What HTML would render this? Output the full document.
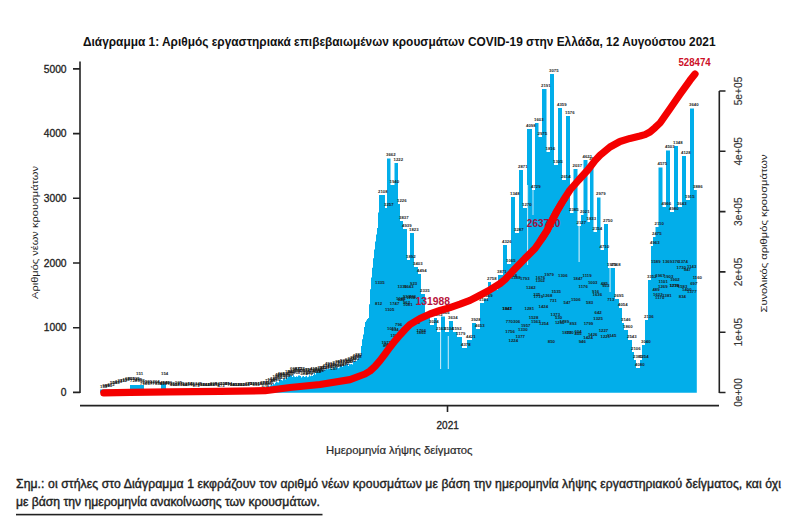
<!DOCTYPE html>
<html><head><meta charset="utf-8"><style>
html,body{margin:0;padding:0;background:#fff;width:800px;height:517px;overflow:hidden}
svg{display:block}
</style></head><body>
<svg width="800" height="517" viewBox="0 0 800 517" font-family='"Liberation Sans", sans-serif'>
<rect width="800" height="517" fill="#fff"/>
<text x="83" y="45.6" font-size="13" font-weight="bold" fill="#111" textLength="632.5" lengthAdjust="spacingAndGlyphs">Διάγραμμα 1: Αριθμός εργαστηριακά επιβεβαιωμένων κρουσμάτων COVID-19 στην Ελλάδα, 12 Αυγούστου 2021</text>
<path d="M100.00 389.5H101.00V392.8H100.00ZM101.00 389.5H102.00V392.8H101.00ZM102.00 389.5H103.00V392.8H102.00ZM103.00 389.5H104.00V392.8H103.00ZM104.00 389.5H105.00V392.8H104.00ZM105.00 389.5H106.00V392.8H105.00ZM106.00 389.5H107.00V392.8H106.00ZM107.00 389.5H108.00V392.8H107.00ZM108.00 389.5H109.00V392.8H108.00ZM109.00 389.5H110.00V392.8H109.00ZM110.00 389.5H111.00V392.8H110.00ZM111.00 389.5H112.00V392.8H111.00ZM112.00 389.5H113.00V392.8H112.00ZM113.00 389.5H114.00V392.8H113.00ZM114.00 389.5H115.00V392.8H114.00ZM115.00 389.5H116.00V392.8H115.00ZM116.00 389.5H117.00V392.8H116.00ZM117.00 389.5H118.00V392.8H117.00ZM118.00 389.5H119.00V392.8H118.00ZM119.00 389.5H120.00V392.8H119.00ZM120.00 389.5H121.00V392.8H120.00ZM121.00 389.5H122.00V392.8H121.00ZM122.00 389.5H123.00V392.8H122.00ZM123.00 389.5H124.00V392.8H123.00ZM124.00 389.5H125.00V392.8H124.00ZM125.00 389.5H126.00V392.8H125.00ZM126.00 389.5H127.00V392.8H126.00ZM127.00 389.5H128.00V392.8H127.00ZM128.00 389.5H129.00V392.8H128.00ZM129.00 389.5H130.00V392.8H129.00ZM130.00 385.0H131.00V392.8H130.00ZM131.00 385.0H132.00V392.8H131.00ZM132.00 385.0H133.00V392.8H132.00ZM133.00 385.0H134.00V392.8H133.00ZM134.00 385.0H135.00V392.8H134.00ZM135.00 385.0H136.00V392.8H135.00ZM136.00 385.0H137.00V392.8H136.00ZM137.00 385.0H138.00V392.8H137.00ZM138.00 385.0H139.00V392.8H138.00ZM139.00 385.0H140.00V392.8H139.00ZM140.00 385.0H141.00V392.8H140.00ZM141.00 385.0H142.00V392.8H141.00ZM142.00 385.0H143.00V392.8H142.00ZM143.00 385.0H144.00V392.8H143.00ZM144.00 389.5H145.00V392.8H144.00ZM145.00 389.5H146.00V392.8H145.00ZM146.00 389.5H147.00V392.8H146.00ZM147.00 389.5H148.00V392.8H147.00ZM148.00 389.5H149.00V392.8H148.00ZM149.00 389.5H150.00V392.8H149.00ZM150.00 389.5H151.00V392.8H150.00ZM151.00 389.5H152.00V392.8H151.00ZM152.00 389.5H153.00V392.8H152.00ZM153.00 389.5H154.00V392.8H153.00ZM154.00 389.5H155.00V392.8H154.00ZM155.00 389.5H156.00V392.8H155.00ZM156.00 389.5H157.00V392.8H156.00ZM157.00 389.5H158.00V392.8H157.00ZM158.00 389.5H159.00V392.8H158.00ZM159.00 389.5H160.00V392.8H159.00ZM160.00 389.5H161.00V392.8H160.00ZM161.00 384.0H162.00V392.8H161.00ZM162.00 384.0H163.00V392.8H162.00ZM163.00 384.0H164.00V392.8H163.00ZM164.00 384.0H165.00V392.8H164.00ZM165.00 384.0H166.00V392.8H165.00ZM166.00 389.5H167.00V392.8H166.00ZM167.00 389.5H168.00V392.8H167.00ZM168.00 389.5H169.00V392.8H168.00ZM169.00 389.5H170.00V392.8H169.00ZM170.00 389.5H171.00V392.8H170.00ZM171.00 389.5H172.00V392.8H171.00ZM172.00 389.5H173.00V392.8H172.00ZM173.00 389.5H174.00V392.8H173.00ZM174.00 389.5H175.00V392.8H174.00ZM175.00 389.5H176.00V392.8H175.00ZM176.00 389.5H177.00V392.8H176.00ZM177.00 389.5H178.00V392.8H177.00ZM178.00 389.5H179.00V392.8H178.00ZM179.00 389.5H180.00V392.8H179.00ZM180.00 389.5H181.00V392.8H180.00ZM181.00 389.5H182.00V392.8H181.00ZM182.00 389.5H183.00V392.8H182.00ZM183.00 389.5H184.00V392.8H183.00ZM184.00 389.5H185.00V392.8H184.00ZM185.00 389.5H186.00V392.8H185.00ZM186.00 389.5H187.00V392.8H186.00ZM187.00 389.5H188.00V392.8H187.00ZM188.00 389.5H189.00V392.8H188.00ZM189.00 389.5H190.00V392.8H189.00ZM190.00 389.5H191.00V392.8H190.00ZM191.00 389.5H192.00V392.8H191.00ZM192.00 389.5H193.00V392.8H192.00ZM193.00 389.5H194.00V392.8H193.00ZM194.00 389.5H195.00V392.8H194.00ZM195.00 389.5H196.00V392.8H195.00ZM196.00 389.5H197.00V392.8H196.00ZM197.00 389.5H198.00V392.8H197.00ZM198.00 389.5H199.00V392.8H198.00ZM199.00 389.5H200.00V392.8H199.00ZM200.00 389.5H201.00V392.8H200.00ZM201.00 389.5H202.00V392.8H201.00ZM202.00 389.5H203.00V392.8H202.00ZM203.00 389.5H204.00V392.8H203.00ZM204.00 389.5H205.00V392.8H204.00ZM205.00 389.5H206.00V392.8H205.00ZM206.00 389.5H207.00V392.8H206.00ZM207.00 389.5H208.00V392.8H207.00ZM208.00 389.5H209.00V392.8H208.00ZM209.00 389.5H210.00V392.8H209.00ZM210.00 389.5H211.00V392.8H210.00ZM211.00 389.5H212.00V392.8H211.00ZM212.00 389.5H213.00V392.8H212.00ZM213.00 389.5H214.00V392.8H213.00ZM214.00 389.5H215.00V392.8H214.00ZM215.00 389.5H216.00V392.8H215.00ZM216.00 389.5H217.00V392.8H216.00ZM217.00 389.5H218.00V392.8H217.00ZM218.00 389.5H219.00V392.8H218.00ZM219.00 389.5H220.00V392.8H219.00ZM220.00 389.5H221.00V392.8H220.00ZM221.00 389.5H222.00V392.8H221.00ZM222.00 389.5H223.00V392.8H222.00ZM223.00 389.5H224.00V392.8H223.00ZM224.00 389.5H225.00V392.8H224.00ZM225.00 389.5H226.00V392.8H225.00ZM226.00 389.5H227.00V392.8H226.00ZM227.00 389.5H228.00V392.8H227.00ZM228.00 389.5H229.00V392.8H228.00ZM229.00 389.5H230.00V392.8H229.00ZM230.00 389.5H231.00V392.8H230.00ZM231.00 389.5H232.00V392.8H231.00ZM232.00 389.5H233.00V392.8H232.00ZM233.00 389.5H234.00V392.8H233.00ZM234.00 389.5H235.00V392.8H234.00ZM235.00 389.5H236.00V392.8H235.00ZM236.00 389.5H237.00V392.8H236.00ZM237.00 389.5H238.00V392.8H237.00ZM238.00 389.5H239.00V392.8H238.00ZM239.00 389.5H240.00V392.8H239.00ZM240.00 389.5H241.00V392.8H240.00ZM241.00 389.5H242.00V392.8H241.00ZM242.00 389.5H243.00V392.8H242.00ZM243.00 389.5H244.00V392.8H243.00ZM244.00 389.5H245.00V392.8H244.00ZM245.00 389.5H246.00V392.8H245.00ZM246.00 389.5H247.00V392.8H246.00ZM247.00 389.5H248.00V392.8H247.00ZM248.00 389.5H249.00V392.8H248.00ZM249.00 389.5H250.00V392.8H249.00ZM250.00 389.5H251.00V392.8H250.00ZM251.00 389.5H252.00V392.8H251.00ZM252.00 389.5H253.00V392.8H252.00ZM253.00 389.5H254.00V392.8H253.00ZM254.00 389.5H255.00V392.8H254.00ZM255.00 389.5H256.00V392.8H255.00ZM256.00 389.5H257.00V392.8H256.00ZM257.00 389.5H258.00V392.8H257.00ZM258.00 389.5H259.00V392.8H258.00ZM259.00 389.5H260.00V392.8H259.00ZM260.00 389.5H261.00V392.8H260.00ZM261.00 389.5H262.00V392.8H261.00ZM262.00 389.5H263.00V392.8H262.00ZM263.00 389.5H264.00V392.8H263.00ZM264.00 389.5H265.00V392.8H264.00ZM265.00 387.5H266.00V392.8H265.00ZM266.00 386.6H267.00V392.8H266.00ZM267.00 387.7H268.00V392.8H267.00ZM268.00 385.5H269.00V392.8H268.00ZM269.00 386.5H270.00V392.8H269.00ZM270.00 385.6H271.00V392.8H270.00ZM271.00 384.3H272.00V392.8H271.00ZM272.00 385.2H273.00V392.8H272.00ZM273.00 383.4H274.00V392.8H273.00ZM274.00 384.2H275.00V392.8H274.00ZM275.00 382.7H276.00V392.8H275.00ZM276.00 382.0H277.00V392.8H276.00ZM277.00 382.2H278.00V392.8H277.00ZM278.00 382.6H279.00V392.8H278.00ZM279.00 379.7H280.00V392.8H279.00ZM280.00 379.2H281.00V392.8H280.00ZM281.00 380.0H282.00V392.8H281.00ZM282.00 380.5H283.00V392.8H282.00ZM283.00 379.0H284.00V392.8H283.00ZM284.00 378.1H285.00V392.8H284.00ZM285.00 379.4H286.00V392.8H285.00ZM286.00 376.2H287.00V392.8H286.00ZM287.00 378.3H288.00V392.8H287.00ZM288.00 376.2H289.00V392.8H288.00ZM289.00 375.3H290.00V392.8H289.00ZM290.00 374.9H291.00V392.8H290.00ZM291.00 375.5H292.00V392.8H291.00ZM292.00 377.1H293.00V392.8H292.00ZM293.00 375.3H294.00V392.8H293.00ZM294.00 376.6H295.00V392.8H294.00ZM295.00 376.9H296.00V392.8H295.00ZM296.00 376.2H297.00V392.8H296.00ZM297.00 376.8H298.00V392.8H297.00ZM298.00 375.5H299.00V392.8H298.00ZM299.00 375.6H300.00V392.8H299.00ZM300.00 376.1H301.00V392.8H300.00ZM301.00 377.4H302.00V392.8H301.00ZM302.00 376.6H303.00V392.8H302.00ZM303.00 376.1H304.00V392.8H303.00ZM304.00 376.9H305.00V392.8H304.00ZM305.00 376.4H306.00V392.8H305.00ZM306.00 375.8H307.00V392.8H306.00ZM307.00 377.2H308.00V392.8H307.00ZM308.00 376.8H309.00V392.8H308.00ZM309.00 375.3H310.00V392.8H309.00ZM310.00 376.2H311.00V392.8H310.00ZM311.00 375.5H312.00V392.8H311.00ZM312.00 375.9H313.00V392.8H312.00ZM313.00 374.9H314.00V392.8H313.00ZM314.00 373.0H315.00V392.8H314.00ZM315.00 374.4H316.00V392.8H315.00ZM316.00 371.3H317.00V392.8H316.00ZM317.00 371.6H318.00V392.8H317.00ZM318.00 372.0H319.00V392.8H318.00ZM319.00 369.6H320.00V392.8H319.00ZM320.00 370.0H321.00V392.8H320.00ZM321.00 368.4H322.00V392.8H321.00ZM322.00 370.1H323.00V392.8H322.00ZM323.00 370.2H324.00V392.8H323.00ZM324.00 369.4H325.00V392.8H324.00ZM325.00 370.1H326.00V392.8H325.00ZM326.00 368.2H327.00V392.8H326.00ZM327.00 369.2H328.00V392.8H327.00ZM328.00 368.7H329.00V392.8H328.00ZM329.00 368.4H330.00V392.8H329.00ZM330.00 367.9H331.00V392.8H330.00ZM331.00 368.9H332.00V392.8H331.00ZM332.00 369.0H333.00V392.8H332.00ZM333.00 367.5H334.00V392.8H333.00ZM334.00 367.9H335.00V392.8H334.00ZM335.00 365.9H336.00V392.8H335.00ZM336.00 367.7H337.00V392.8H336.00ZM337.00 367.4H338.00V392.8H337.00ZM338.00 368.3H339.00V392.8H338.00ZM339.00 367.6H340.00V392.8H339.00ZM340.00 365.9H341.00V392.8H340.00ZM341.00 366.0H342.00V392.8H341.00ZM342.00 366.7H343.00V392.8H342.00ZM343.00 364.6H344.00V392.8H343.00ZM344.00 365.8H345.00V392.8H344.00ZM345.00 364.8H346.00V392.8H345.00ZM346.00 364.5H347.00V392.8H346.00ZM347.00 364.1H348.00V392.8H347.00ZM348.00 366.1H349.00V392.8H348.00ZM349.00 364.0H350.00V392.8H349.00ZM350.00 364.2H351.00V392.8H350.00ZM351.00 363.9H352.00V392.8H351.00ZM352.00 364.5H353.00V392.8H352.00ZM353.00 361.3H354.00V392.8H353.00ZM354.00 361.6H355.00V392.8H354.00ZM355.00 361.1H356.00V392.8H355.00ZM356.00 361.0H357.00V392.8H356.00ZM357.00 359.6H358.00V392.8H357.00ZM358.00 358.5H359.00V392.8H358.00ZM359.00 355.5H360.00V392.8H359.00ZM360.00 354.7H361.00V392.8H360.00ZM361.00 346.1H362.00V392.8H361.00ZM362.00 339.2H363.00V392.8H362.00ZM363.00 334.4H364.00V392.8H363.00ZM364.00 327.0H365.00V392.8H364.00ZM365.00 322.0H366.00V392.8H365.00ZM366.00 320.5H367.00V392.8H366.00ZM367.00 318.9H368.00V392.8H367.00ZM368.00 318.0H369.00V392.8H368.00ZM369.00 304.3H370.00V392.8H369.00ZM370.00 289.3H371.00V392.8H370.00ZM371.00 277.5H372.00V392.8H371.00ZM372.00 267.8H373.00V392.8H372.00ZM373.00 258.3H374.00V392.8H373.00ZM374.00 249.5H375.00V392.8H374.00ZM375.00 241.4H376.00V392.8H375.00ZM376.00 234.6H377.00V392.8H376.00ZM377.00 228.0H378.00V392.8H377.00ZM378.00 212.4H379.00V392.8H378.00ZM379.00 195.0H385.00V392.8H379.00ZM385.00 208.0H387.00V392.8H385.00ZM387.00 158.6H390.50V392.8H387.00ZM390.50 185.0H394.50V392.8H390.50ZM394.50 163.0H398.00V392.8H394.50ZM398.00 204.0H400.00V392.8H398.00ZM400.00 221.0H403.00V392.8H400.00ZM403.00 229.0H407.00V392.8H403.00ZM407.00 260.0H410.00V392.8H407.00ZM410.00 233.0H414.00V392.8H410.00ZM414.00 267.0H418.00V392.8H414.00ZM418.00 274.0H421.00V392.8H418.00ZM421.00 294.0H425.00V392.8H421.00ZM425.00 318.0H430.00V392.8H425.00ZM430.00 325.0H434.00V392.8H430.00ZM434.00 318.0H437.00V392.8H434.00ZM437.00 332.0H441.00V392.8H437.00ZM441.00 316.5H445.00V392.8H441.00ZM445.00 332.0H449.00V392.8H445.00ZM449.00 321.0H453.00V392.8H449.00ZM453.00 332.0H457.00V392.8H453.00ZM457.00 337.0H462.00V392.8H457.00ZM462.00 348.0H467.00V392.8H462.00ZM467.00 340.0H472.00V392.8H467.00ZM472.00 323.0H476.00V392.8H472.00ZM476.00 329.0H480.00V392.8H476.00ZM480.00 303.0H484.00V392.8H480.00ZM484.00 299.0H488.00V392.8H484.00ZM488.00 282.0H491.00V392.8H488.00ZM491.00 290.0H498.00V392.8H491.00ZM498.00 275.0H503.00V392.8H498.00ZM503.00 245.0H507.00V392.8H503.00ZM507.00 264.0H511.00V392.8H507.00ZM511.00 197.0H515.00V392.8H511.00ZM515.00 233.0H519.00V392.8H515.00ZM519.00 170.0H523.00V392.8H519.00ZM523.00 208.0H527.00V392.8H523.00ZM527.00 129.0H532.00V392.8H527.00ZM532.00 190.0H535.00V392.8H532.00ZM535.00 123.0H538.50V392.8H535.00ZM538.50 137.0H542.00V392.8H538.50ZM542.00 89.0H546.50V392.8H542.00ZM546.50 152.0H550.00V392.8H546.50ZM550.00 74.0H554.00V392.8H550.00ZM554.00 165.0H558.00V392.8H554.00ZM558.00 108.0H562.00V392.8H558.00ZM562.00 180.0H566.00V392.8H562.00ZM566.00 116.0H570.00V392.8H566.00ZM570.00 213.0H573.50V392.8H570.00ZM573.50 169.0H577.50V392.8H573.50ZM577.50 226.0H581.00V392.8H577.50ZM581.00 215.0H583.50V392.8H581.00ZM583.50 160.0H587.50V392.8H583.50ZM587.50 222.0H590.00V392.8H587.50ZM590.00 162.0H593.50V392.8H590.00ZM593.50 232.0H597.00V392.8H593.50ZM597.00 197.5H600.50V392.8H597.00ZM600.50 250.0H604.00V392.8H600.50ZM604.00 224.0H608.00V392.8H604.00ZM608.00 268.0H612.00V392.8H608.00ZM612.00 268.0H615.00V392.8H612.00ZM615.00 299.0H619.00V392.8H615.00ZM619.00 308.0H622.00V392.8H619.00ZM622.00 323.0H624.00V392.8H622.00ZM624.00 330.0H628.00V392.8H624.00ZM628.00 340.0H632.00V392.8H628.00ZM632.00 352.0H634.00V392.8H632.00ZM634.00 360.0H636.00V392.8H634.00ZM636.00 368.0H640.00V392.8H636.00ZM640.00 360.0H642.00V392.8H640.00ZM642.00 345.0H645.00V392.8H642.00ZM645.00 320.0H648.00V392.8H645.00ZM648.00 280.0H651.00V392.8H648.00ZM651.00 246.0H653.00V392.8H651.00ZM653.00 237.0H655.50V392.8H653.00ZM655.50 227.0H658.50V392.8H655.50ZM658.50 167.6H662.50V392.8H658.50ZM662.50 207.0H666.00V392.8H662.50ZM666.00 150.6H670.00V392.8H666.00ZM670.00 212.0H674.00V392.8H670.00ZM674.00 146.0H678.00V392.8H674.00ZM678.00 207.0H682.00V392.8H678.00ZM682.00 156.0H686.00V392.8H682.00ZM686.00 200.0H690.00V392.8H686.00ZM690.00 108.5H694.00V392.8H690.00ZM694.00 190.0H696.80V392.8H694.00Z" fill="#02aeea"/>
<path d="M527.20 185H528.10V265H527.20ZM578.60 226H579.60V262H578.60ZM609.60 268H610.50V292H609.60ZM440.20 332H441.10V369H440.20ZM447.80 336H448.70V369H447.80ZM532.60 190H533.40V215H532.60Z" fill="#e8f6fc"/>
<g fill="#1c1c1c" font-weight="bold"><text x="100.0" y="387.9" font-size="4.3">155</text><text x="102.5" y="386.7" font-size="4.3">991</text><text x="105.0" y="386.8" font-size="4.3">995</text><text x="107.5" y="385.9" font-size="4.3">672</text><text x="110.0" y="384.4" font-size="4.3">508</text><text x="112.5" y="383.6" font-size="4.3">593</text><text x="115.0" y="383.3" font-size="4.3">163</text><text x="117.5" y="381.7" font-size="4.3">313</text><text x="120.0" y="381.8" font-size="4.3">212</text><text x="122.5" y="381.1" font-size="4.3">153</text><text x="125.0" y="380.3" font-size="4.3">680</text><text x="127.5" y="380.3" font-size="4.3">203</text><text x="130.0" y="382.2" font-size="4.3">728</text><text x="132.5" y="380.4" font-size="4.3">995</text><text x="135.0" y="381.3" font-size="4.3">485</text><text x="137.5" y="381.9" font-size="4.3">358</text><text x="140.0" y="384.5" font-size="4.3">716</text><text x="142.5" y="383.7" font-size="4.3">225</text><text x="145.0" y="383.2" font-size="4.3">599</text><text x="147.5" y="385.4" font-size="4.3">577</text><text x="150.0" y="384.2" font-size="4.3">419</text><text x="152.5" y="383.4" font-size="4.3">204</text><text x="155.0" y="385.0" font-size="4.3">858</text><text x="157.5" y="384.0" font-size="4.3">948</text><text x="160.0" y="385.1" font-size="4.3">628</text><text x="162.5" y="383.5" font-size="4.3">640</text><text x="165.0" y="384.4" font-size="4.3">806</text><text x="167.5" y="385.0" font-size="4.3">127</text><text x="170.0" y="385.6" font-size="4.3">405</text><text x="172.5" y="386.2" font-size="4.3">984</text><text x="175.0" y="384.1" font-size="4.3">965</text><text x="177.5" y="384.5" font-size="4.3">475</text><text x="180.0" y="386.1" font-size="4.3">464</text><text x="182.5" y="385.9" font-size="4.3">645</text><text x="185.0" y="385.4" font-size="4.3">614</text><text x="187.5" y="384.9" font-size="4.3">328</text><text x="190.0" y="385.6" font-size="4.3">907</text><text x="192.5" y="386.6" font-size="4.3">973</text><text x="195.0" y="384.7" font-size="4.3">345</text><text x="197.5" y="386.3" font-size="4.3">857</text><text x="200.0" y="386.2" font-size="4.3">304</text><text x="202.5" y="385.5" font-size="4.3">464</text><text x="205.0" y="386.1" font-size="4.3">128</text><text x="207.5" y="386.2" font-size="4.3">583</text><text x="210.0" y="384.9" font-size="4.3">809</text><text x="212.5" y="385.8" font-size="4.3">452</text><text x="215.0" y="385.4" font-size="4.3">840</text><text x="217.5" y="386.7" font-size="4.3">473</text><text x="220.0" y="384.5" font-size="4.3">204</text><text x="222.5" y="384.8" font-size="4.3">301</text><text x="225.0" y="385.1" font-size="4.3">594</text><text x="227.5" y="385.8" font-size="4.3">724</text><text x="230.0" y="386.2" font-size="4.3">590</text><text x="232.5" y="386.3" font-size="4.3">452</text><text x="235.0" y="386.0" font-size="4.3">186</text><text x="237.5" y="386.0" font-size="4.3">222</text><text x="240.0" y="386.1" font-size="4.3">901</text><text x="242.5" y="385.6" font-size="4.3">304</text><text x="245.0" y="385.0" font-size="4.3">282</text><text x="247.5" y="384.8" font-size="4.3">751</text><text x="250.0" y="384.5" font-size="4.3">920</text><text x="252.5" y="385.9" font-size="4.3">839</text><text x="255.0" y="384.5" font-size="4.3">511</text><text x="257.5" y="385.1" font-size="4.3">186</text><text x="260.0" y="384.0" font-size="4.3">274</text><text x="261.6" y="386.5" font-size="4.3">576</text><text x="262.5" y="383.6" font-size="4.3">925</text><text x="265.2" y="384.6" font-size="4.3">585</text><text x="265.0" y="381.7" font-size="4.3">773</text><text x="266.8" y="384.1" font-size="4.3">121</text><text x="267.5" y="381.3" font-size="4.3">114</text><text x="270.5" y="382.0" font-size="4.3">867</text><text x="270.0" y="379.9" font-size="4.3">242</text><text x="273.2" y="381.1" font-size="4.3">316</text><text x="272.5" y="377.9" font-size="4.3">128</text><text x="274.6" y="378.7" font-size="4.3">700</text><text x="275.0" y="376.3" font-size="4.3">433</text><text x="277.3" y="377.4" font-size="4.3">857</text><text x="277.5" y="375.2" font-size="4.3">462</text><text x="280.3" y="379.1" font-size="4.3">629</text><text x="280.0" y="375.9" font-size="4.3">530</text><text x="283.3" y="377.0" font-size="4.3">255</text><text x="282.5" y="374.8" font-size="4.3">636</text><text x="285.7" y="376.3" font-size="4.3">723</text><text x="285.0" y="373.1" font-size="4.3">104</text><text x="286.8" y="375.0" font-size="4.3">733</text><text x="287.5" y="372.8" font-size="4.3">842</text><text x="289.1" y="373.3" font-size="4.3">643</text><text x="290.0" y="370.3" font-size="4.3">668</text><text x="293.1" y="373.8" font-size="4.3">158</text><text x="292.5" y="370.5" font-size="4.3">354</text><text x="294.1" y="372.1" font-size="4.3">563</text><text x="295.0" y="370.0" font-size="4.3">675</text><text x="298.3" y="371.8" font-size="4.3">433</text><text x="297.5" y="369.7" font-size="4.3">727</text><text x="300.2" y="374.5" font-size="4.3">383</text><text x="300.0" y="372.2" font-size="4.3">563</text><text x="303.1" y="374.0" font-size="4.3">353</text><text x="302.5" y="371.2" font-size="4.3">815</text><text x="305.8" y="374.8" font-size="4.3">672</text><text x="305.0" y="371.4" font-size="4.3">307</text><text x="306.8" y="374.3" font-size="4.3">552</text><text x="307.5" y="372.2" font-size="4.3">423</text><text x="309.5" y="371.7" font-size="4.3">785</text><text x="310.0" y="369.6" font-size="4.3">410</text><text x="313.3" y="372.8" font-size="4.3">833</text><text x="312.5" y="370.5" font-size="4.3">758</text><text x="314.3" y="372.8" font-size="4.3">578</text><text x="315.0" y="369.5" font-size="4.3">324</text><text x="316.7" y="372.3" font-size="4.3">266</text><text x="317.5" y="369.0" font-size="4.3">783</text><text x="319.3" y="371.2" font-size="4.3">627</text><text x="320.0" y="368.5" font-size="4.3">513</text><text x="321.9" y="369.2" font-size="4.3">839</text><text x="322.5" y="366.7" font-size="4.3">474</text><text x="325.1" y="368.0" font-size="4.3">118</text><text x="325.0" y="365.3" font-size="4.3">493</text><text x="327.7" y="368.2" font-size="4.3">165</text><text x="327.5" y="365.5" font-size="4.3">215</text><text x="330.6" y="369.9" font-size="4.3">207</text><text x="330.0" y="366.4" font-size="4.3">186</text><text x="331.6" y="367.2" font-size="4.3">376</text><text x="332.5" y="364.1" font-size="4.3">873</text><text x="334.8" y="366.5" font-size="4.3">938</text><text x="335.0" y="363.1" font-size="4.3">364</text><text x="337.6" y="365.9" font-size="4.3">606</text><text x="337.5" y="363.1" font-size="4.3">817</text><text x="339.6" y="365.5" font-size="4.3">287</text><text x="340.0" y="362.3" font-size="4.3">535</text><text x="342.0" y="365.1" font-size="4.3">190</text><text x="342.5" y="363.1" font-size="4.3">920</text><text x="345.2" y="363.3" font-size="4.3">370</text><text x="345.0" y="360.9" font-size="4.3">983</text><text x="346.5" y="363.2" font-size="4.3">527</text><text x="347.5" y="359.7" font-size="4.3">374</text><text x="349.1" y="362.3" font-size="4.3">212</text><text x="350.0" y="359.2" font-size="4.3">265</text><text x="351.9" y="360.0" font-size="4.3">743</text><text x="352.5" y="356.6" font-size="4.3">412</text><text x="354.4" y="358.2" font-size="4.3">788</text><text x="355.0" y="355.6" font-size="4.3">282</text><text x="136.0" y="375.0" font-size="4.3">151</text><text x="161.0" y="375.0" font-size="4.3">154</text><text x="378.0" y="192.5" font-size="4.3">2108</text><text x="375.1" y="304.9" font-size="4.3">812</text><text x="375.1" y="284.4" font-size="4.3">1335</text><text x="384.0" y="205.5" font-size="4.3">3257</text><text x="383.1" y="346.6" font-size="4.3">803</text><text x="381.4" y="343.7" font-size="4.3">1977</text><text x="386.0" y="156.1" font-size="4.3">3662</text><text x="385.0" y="310.5" font-size="4.3">1105</text><text x="384.2" y="346.0" font-size="4.3">740</text><text x="389.5" y="182.5" font-size="4.3">1940</text><text x="389.8" y="304.6" font-size="4.3">1747</text><text x="387.1" y="330.1" font-size="4.3">1011</text><text x="393.5" y="160.5" font-size="4.3">1222</text><text x="390.6" y="337.2" font-size="4.3">1580</text><text x="391.5" y="330.9" font-size="4.3">634</text><text x="397.0" y="201.5" font-size="4.3">1226</text><text x="397.4" y="287.6" font-size="4.3">1336</text><text x="395.1" y="326.3" font-size="4.3">796</text><text x="399.0" y="218.5" font-size="4.3">3837</text><text x="397.8" y="301.3" font-size="4.3">622</text><text x="396.0" y="299.8" font-size="4.3">1045</text><text x="402.0" y="226.5" font-size="4.3">4939</text><text x="402.9" y="303.7" font-size="4.3">962</text><text x="402.9" y="298.1" font-size="4.3">933</text><text x="406.0" y="257.5" font-size="4.3">1892</text><text x="403.0" y="305.5" font-size="4.3">1081</text><text x="404.1" y="287.5" font-size="4.3">1643</text><text x="409.0" y="230.5" font-size="4.3">1823</text><text x="409.1" y="298.4" font-size="4.3">486</text><text x="406.4" y="299.4" font-size="4.3">1118</text><text x="413.0" y="264.5" font-size="4.3">3403</text><text x="410.1" y="284.8" font-size="4.3">923</text><text x="410.3" y="323.6" font-size="4.3">1383</text><text x="417.0" y="271.5" font-size="4.3">4494</text><text x="416.6" y="331.5" font-size="4.3">1766</text><text x="416.4" y="333.7" font-size="4.3">1865</text><text x="420.0" y="291.5" font-size="4.3">2335</text><text x="424.0" y="315.5" font-size="4.3">3951</text><text x="429.0" y="322.5" font-size="4.3">3024</text><text x="433.0" y="315.5" font-size="4.3">1612</text><text x="436.0" y="329.5" font-size="4.3">2163</text><text x="440.0" y="314.0" font-size="4.3">3966</text><text x="444.0" y="329.5" font-size="4.3">3534</text><text x="448.0" y="318.5" font-size="4.3">3634</text><text x="452.0" y="329.5" font-size="4.3">1592</text><text x="456.0" y="334.5" font-size="4.3">1179</text><text x="461.0" y="345.5" font-size="4.3">4378</text><text x="466.0" y="337.5" font-size="4.3">4421</text><text x="471.0" y="320.5" font-size="4.3">3928</text><text x="475.0" y="326.5" font-size="4.3">4653</text><text x="479.0" y="300.5" font-size="4.3">3101</text><text x="483.0" y="296.5" font-size="4.3">3569</text><text x="487.0" y="279.5" font-size="4.3">2758</text><text x="490.0" y="287.5" font-size="4.3">4005</text><text x="497.0" y="272.5" font-size="4.3">3871</text><text x="502.0" y="242.5" font-size="4.3">4326</text><text x="502.6" y="310.4" font-size="4.3">1841</text><text x="502.3" y="310.3" font-size="4.3">1947</text><text x="506.0" y="261.5" font-size="4.3">1065</text><text x="505.3" y="332.8" font-size="4.3">1756</text><text x="505.8" y="322.8" font-size="4.3">770</text><text x="510.0" y="194.5" font-size="4.3">1348</text><text x="507.5" y="277.2" font-size="4.3">1038</text><text x="508.5" y="342.2" font-size="4.3">1224</text><text x="514.0" y="230.5" font-size="4.3">3287</text><text x="511.1" y="278.6" font-size="4.3">1388</text><text x="513.0" y="322.6" font-size="4.3">306</text><text x="518.0" y="167.5" font-size="4.3">2871</text><text x="518.0" y="330.8" font-size="4.3">1330</text><text x="515.4" y="337.9" font-size="4.3">1377</text><text x="522.0" y="205.5" font-size="4.3">1270</text><text x="520.9" y="327.2" font-size="4.3">1957</text><text x="520.1" y="280.2" font-size="4.3">1793</text><text x="526.0" y="126.5" font-size="4.3">4098</text><text x="526.0" y="289.4" font-size="4.3">1242</text><text x="524.5" y="309.6" font-size="4.3">1281</text><text x="531.0" y="187.5" font-size="4.3">4729</text><text x="531.1" y="322.9" font-size="4.3">1563</text><text x="528.8" y="319.3" font-size="4.3">1528</text><text x="534.0" y="120.5" font-size="4.3">1603</text><text x="533.6" y="298.2" font-size="4.3">1719</text><text x="533.3" y="296.3" font-size="4.3">325</text><text x="537.5" y="134.5" font-size="4.3">2975</text><text x="535.6" y="279.2" font-size="4.3">1676</text><text x="535.4" y="282.0" font-size="4.3">1302</text><text x="541.0" y="86.5" font-size="4.3">2191</text><text x="539.1" y="324.6" font-size="4.3">1254</text><text x="538.5" y="307.6" font-size="4.3">1424</text><text x="545.5" y="149.5" font-size="4.3">1816</text><text x="542.8" y="296.8" font-size="4.3">1268</text><text x="544.3" y="276.2" font-size="4.3">1979</text><text x="549.0" y="71.5" font-size="4.3">3075</text><text x="547.8" y="342.8" font-size="4.3">850</text><text x="549.7" y="302.1" font-size="4.3">731</text><text x="553.0" y="162.5" font-size="4.3">1305</text><text x="550.6" y="315.7" font-size="4.3">1373</text><text x="551.4" y="293.3" font-size="4.3">1535</text><text x="557.0" y="105.5" font-size="4.3">4359</text><text x="555.1" y="319.2" font-size="4.3">530</text><text x="554.9" y="324.2" font-size="4.3">1295</text><text x="561.0" y="177.5" font-size="4.3">2614</text><text x="558.0" y="276.7" font-size="4.3">1306</text><text x="559.6" y="322.7" font-size="4.3">1789</text><text x="565.0" y="113.5" font-size="4.3">1576</text><text x="563.5" y="304.1" font-size="4.3">547</text><text x="562.0" y="333.8" font-size="4.3">1837</text><text x="569.0" y="210.5" font-size="4.3">2385</text><text x="566.5" y="333.7" font-size="4.3">700</text><text x="569.6" y="324.9" font-size="4.3">893</text><text x="572.5" y="166.5" font-size="4.3">2037</text><text x="571.1" y="301.1" font-size="4.3">1506</text><text x="573.2" y="280.3" font-size="4.3">1847</text><text x="576.5" y="223.5" font-size="4.3">2127</text><text x="574.6" y="334.8" font-size="4.3">405</text><text x="574.6" y="333.4" font-size="4.3">604</text><text x="580.0" y="212.5" font-size="4.3">2021</text><text x="578.7" y="343.0" font-size="4.3">946</text><text x="578.5" y="288.3" font-size="4.3">1176</text><text x="582.5" y="157.5" font-size="4.3">4621</text><text x="582.5" y="277.0" font-size="4.3">1119</text><text x="583.3" y="338.9" font-size="4.3">1424</text><text x="586.5" y="219.5" font-size="4.3">1833</text><text x="583.7" y="325.4" font-size="4.3">1799</text><text x="586.0" y="303.8" font-size="4.3">583</text><text x="589.0" y="159.5" font-size="4.3">3639</text><text x="587.9" y="335.9" font-size="4.3">1426</text><text x="587.9" y="283.9" font-size="4.3">1003</text><text x="592.5" y="229.5" font-size="4.3">2154</text><text x="592.5" y="295.8" font-size="4.3">1636</text><text x="592.1" y="293.2" font-size="4.3">916</text><text x="596.0" y="195.0" font-size="4.3">2979</text><text x="594.6" y="314.0" font-size="4.3">642</text><text x="593.3" y="320.0" font-size="4.3">1325</text><text x="599.5" y="247.5" font-size="4.3">4710</text><text x="598.7" y="331.8" font-size="4.3">1227</text><text x="600.5" y="338.4" font-size="4.3">1221</text><text x="603.0" y="221.5" font-size="4.3">2750</text><text x="600.8" y="284.8" font-size="4.3">485</text><text x="602.2" y="287.2" font-size="4.3">953</text><text x="607.0" y="265.5" font-size="4.3">1979</text><text x="607.2" y="300.8" font-size="4.3">713</text><text x="607.0" y="337.1" font-size="4.3">1145</text><text x="611.0" y="265.5" font-size="4.3">2568</text><text x="614.0" y="296.5" font-size="4.3">2695</text><text x="618.0" y="305.5" font-size="4.3">4054</text><text x="621.0" y="320.5" font-size="4.3">3146</text><text x="623.0" y="327.5" font-size="4.3">1860</text><text x="627.0" y="337.5" font-size="4.3">2543</text><text x="631.0" y="349.5" font-size="4.3">2106</text><text x="633.0" y="357.5" font-size="4.3">2385</text><text x="635.0" y="365.5" font-size="4.3">4080</text><text x="639.0" y="357.5" font-size="4.3">1254</text><text x="641.0" y="342.5" font-size="4.3">3040</text><text x="644.0" y="317.5" font-size="4.3">2136</text><text x="647.0" y="277.5" font-size="4.3">3352</text><text x="650.0" y="243.5" font-size="4.3">4963</text><text x="652.0" y="234.5" font-size="4.3">2475</text><text x="651.0" y="263.3" font-size="4.3">1589</text><text x="652.4" y="291.2" font-size="4.3">489</text><text x="654.5" y="224.5" font-size="4.3">2110</text><text x="653.0" y="295.7" font-size="4.3">1622</text><text x="655.3" y="276.7" font-size="4.3">1967</text><text x="657.5" y="165.1" font-size="4.3">4575</text><text x="655.0" y="298.7" font-size="4.3">1170</text><text x="658.1" y="287.8" font-size="4.3">1269</text><text x="661.5" y="204.5" font-size="4.3">4966</text><text x="658.5" y="282.7" font-size="4.3">1101</text><text x="662.2" y="297.1" font-size="4.3">1381</text><text x="665.0" y="148.1" font-size="4.3">4503</text><text x="663.8" y="277.7" font-size="4.3">1903</text><text x="662.6" y="262.6" font-size="4.3">1369</text><text x="669.0" y="209.5" font-size="4.3">4980</text><text x="669.8" y="286.6" font-size="4.3">1778</text><text x="669.4" y="287.4" font-size="4.3">1236</text><text x="673.0" y="143.5" font-size="4.3">1348</text><text x="670.2" y="281.2" font-size="4.3">1902</text><text x="672.3" y="263.3" font-size="4.3">376</text><text x="677.0" y="204.5" font-size="4.3">3643</text><text x="677.8" y="288.0" font-size="4.3">1583</text><text x="676.5" y="268.6" font-size="4.3">1730</text><text x="681.0" y="153.5" font-size="4.3">4128</text><text x="678.3" y="262.7" font-size="4.3">1374</text><text x="678.8" y="297.6" font-size="4.3">834</text><text x="685.0" y="197.5" font-size="4.3">1915</text><text x="682.0" y="291.2" font-size="4.3">1400</text><text x="683.8" y="270.7" font-size="4.3">947</text><text x="689.0" y="106.0" font-size="4.3">3640</text><text x="687.0" y="293.3" font-size="4.3">1377</text><text x="687.0" y="267.9" font-size="4.3">1143</text><text x="693.0" y="187.5" font-size="4.3">3886</text><text x="690.2" y="285.3" font-size="4.3">697</text><text x="692.7" y="278.9" font-size="4.3">1160</text></g>
<path d="M103.8 392.9 L130.0 392.4 L170.0 391.8 L220.0 391.4 L265.0 390.7 L290.0 387.5 L320.0 384.5 L350.0 379.6 L365.0 374.0 L370.0 371.0 L375.0 366.4 L380.0 360.6 L385.0 354.0 L390.0 347.2 L395.0 340.8 L400.0 335.0 L405.0 329.5 L410.0 324.5 L420.0 318.5 L430.0 314.0 L440.0 310.5 L450.0 307.6 L460.0 304.2 L470.0 300.4 L480.0 295.2 L490.0 289.8 L500.0 283.6 L505.0 279.5 L515.0 268.8 L525.0 258.4 L535.0 248.5 L541.0 240.0 L547.0 230.6 L552.0 220.5 L557.0 211.0 L563.2 200.5 L570.0 190.0 L578.7 180.0 L587.8 170.0 L595.0 160.6 L600.0 155.3 L610.0 147.0 L620.0 141.5 L630.0 138.4 L640.0 136.0 L645.0 134.6 L650.0 132.0 L655.0 127.7 L660.0 123.0 L670.0 108.8 L680.0 94.3 L690.0 80.3 L695.0 74.0" fill="none" stroke="#f40000" stroke-width="7.2" stroke-linecap="round" stroke-linejoin="round"/>
<g font-weight="bold" font-size="10.4">
<text x="678.5" y="66.2" fill="#cc1028" textLength="32.2" lengthAdjust="spacingAndGlyphs">528474</text>
<text x="415.5" y="305.4" fill="#b8123a" textLength="34.5" lengthAdjust="spacingAndGlyphs">131988</text>
<text x="526.8" y="227.3" fill="#9c1040" textLength="33.5" lengthAdjust="spacingAndGlyphs">263720</text>
</g>
<path d="M103.8 392.9 L130.0 392.4 L170.0 391.8 L220.0 391.4 L265.0 390.7 L290.0 387.5 L320.0 384.5 L350.0 379.6 L365.0 374.0 L370.0 371.0 L375.0 366.4 L380.0 360.6 L385.0 354.0 L390.0 347.2 L395.0 340.8 L400.0 335.0 L405.0 329.5 L410.0 324.5 L420.0 318.5 L430.0 314.0 L440.0 310.5 L450.0 307.6 L460.0 304.2 L470.0 300.4 L480.0 295.2 L490.0 289.8 L500.0 283.6 L505.0 279.5 L515.0 268.8 L525.0 258.4 L535.0 248.5 L541.0 240.0 L547.0 230.6 L552.0 220.5 L557.0 211.0 L563.2 200.5 L570.0 190.0 L578.7 180.0 L587.8 170.0 L595.0 160.6 L600.0 155.3 L610.0 147.0 L620.0 141.5 L630.0 138.4 L640.0 136.0 L645.0 134.6 L650.0 132.0 L655.0 127.7 L660.0 123.0 L670.0 108.8 L680.0 94.3 L690.0 80.3 L695.0 74.0" fill="none" stroke="#f40000" stroke-width="7.2" stroke-linecap="round" stroke-linejoin="round" clip-path="url(#cl)"/>
<defs><clipPath id="cl"><rect x="500" y="200" width="100" height="40"/></clipPath></defs>
<g stroke="#222" stroke-width="1.6" fill="none">
<path d="M80 61.5V393"/>
<path d="M73 68.9H80M73 133.6H80M73 198.3H80M73 263H80M73 327.7H80M73 392.4H80"/>
<path d="M80 405.6H719"/>
<path d="M447.5 405.6V412"/>
<path d="M719.3 91V393"/>
<path d="M719.3 91H725.5M719.3 151.3H725.5M719.3 211.6H725.5M719.3 271.9H725.5M719.3 332.2H725.5M719.3 392.5H725.5"/>
</g>
<g font-size="10.3" fill="#222" stroke="#222" stroke-width="0.3" text-anchor="end">
<text x="66.6" y="72.5">5000</text>
<text x="66.6" y="137.2">4000</text>
<text x="66.6" y="201.9">3000</text>
<text x="66.6" y="266.6">2000</text>
<text x="66.6" y="331.3">1000</text>
<text x="66.6" y="396">0</text>
</g>
<g font-size="10.2" fill="#333" stroke="#333" stroke-width="0.15" text-anchor="middle">
<text transform="translate(741.6,91) rotate(-90)">5e+05</text>
<text transform="translate(741.6,151.3) rotate(-90)">4e+05</text>
<text transform="translate(741.6,211.6) rotate(-90)">3e+05</text>
<text transform="translate(741.6,271.9) rotate(-90)">2e+05</text>
<text transform="translate(741.6,332.2) rotate(-90)">1e+05</text>
<text transform="translate(741.6,392.5) rotate(-90)">0e+00</text>
</g>
<text transform="translate(767.2,233.5) rotate(-90)" font-size="9.8" fill="#222" text-anchor="middle" textLength="158" lengthAdjust="spacingAndGlyphs">Συνολικός αριθμός κρουσμάτων</text>
<text transform="translate(37.6,232.5) rotate(-90)" font-size="9.6" fill="#222" text-anchor="middle" textLength="133" lengthAdjust="spacingAndGlyphs">Αριθμός νέων κρουσμάτων</text>
<text x="447.7" y="428.8" font-size="10" fill="#222" stroke="#222" stroke-width="0.3" text-anchor="middle">2021</text>
<text x="326" y="453.8" font-size="10.5" fill="#2a2a2a" stroke="#2a2a2a" stroke-width="0.2" textLength="146.5" lengthAdjust="spacingAndGlyphs">Ημερομηνία λήψης δείγματος</text>
<text x="16" y="488" font-size="12.2" fill="#1e1e1e" stroke="#1e1e1e" stroke-width="0.4" textLength="765" lengthAdjust="spacing">Σημ.:  οι στήλες στο Διάγραμμα 1 εκφράζουν τον αριθμό νέων κρουσμάτων με βάση την ημερομηνία λήψης εργαστηριακού δείγματος, και όχι</text>
<text x="16" y="505.5" font-size="12.2" fill="#1e1e1e" stroke="#1e1e1e" stroke-width="0.4" textLength="304" lengthAdjust="spacing">με βάση την ημερομηνία ανακοίνωσης των κρουσμάτων.</text>
<rect x="16" y="513.8" width="306.5" height="1.6" fill="#222"/>
</svg>
</body></html>
